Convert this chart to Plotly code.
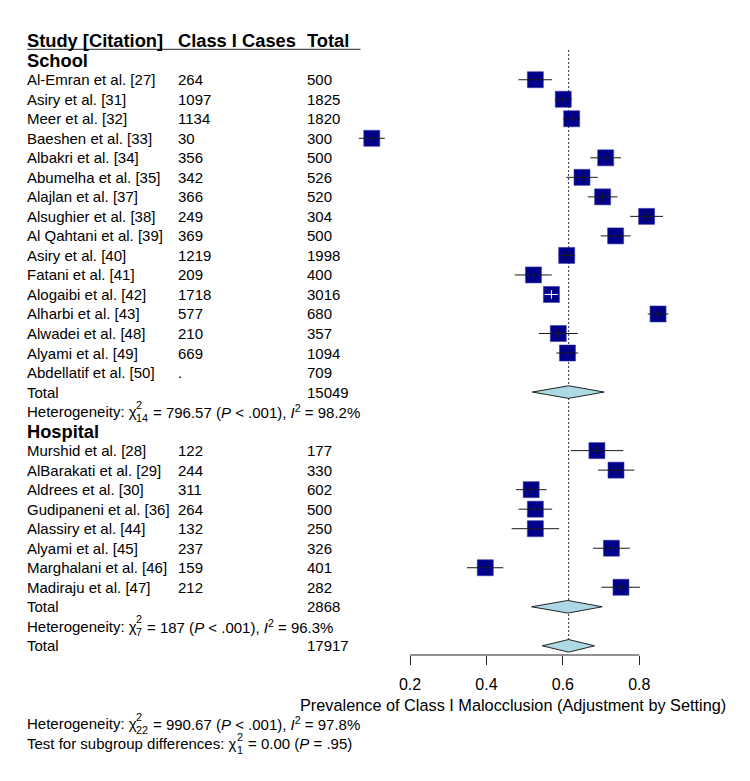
import plotly.graph_objects as go

# ---------------- data ----------------
school_studies = ["Al-Emran et al. [27]", "Asiry et al. [31]", "Meer et al. [32]", "Baeshen et al. [33]",
                  "Albakri et al. [34]", "Abumelha et al. [35]", "Alajlan et al. [37]", "Alsughier et al. [38]",
                  "Al Qahtani et al. [39]", "Asiry et al. [40]", "Fatani et al. [41]", "Alogaibi et al. [42]",
                  "Alharbi et al. [43]", "Alwadei et al. [48]", "Alyami et al. [49]", "Abdellatif et al. [50]"]
school_cases = ["264", "1097", "1134", "30", "356", "342", "366", "249", "369", "1219", "209", "1718",
                "577", "210", "669", "."]
school_totals = ["500", "1825", "1820", "300", "500", "526", "520", "304", "500", "1998", "400", "3016",
                 "680", "357", "1094", "709"]
school_est = [0.528, 0.601, 0.623, 0.100, 0.712, 0.650, 0.704, 0.819, 0.738, 0.610, 0.523, 0.570,
              0.849, 0.588, 0.612, None]
school_lo = [0.484, 0.579, 0.601, 0.066, 0.672, 0.609, 0.665, 0.776, 0.699, 0.589, 0.474, 0.552,
             0.822, 0.537, 0.583, None]
school_hi = [0.572, 0.624, 0.645, 0.134, 0.752, 0.691, 0.743, 0.862, 0.777, 0.632, 0.571, 0.587,
             0.876, 0.639, 0.640, None]

hospital_studies = ["Murshid et al. [28]", "AlBarakati et al. [29]", "Aldrees et al. [30]",
                    "Gudipaneni et al. [36]", "Alassiry et al. [44]", "Alyami et al. [45]",
                    "Marghalani et al. [46]", "Madiraju et al. [47]"]
hospital_cases = ["122", "244", "311", "264", "132", "237", "159", "212"]
hospital_totals = ["177", "330", "602", "500", "250", "326", "401", "282"]
hospital_est = [0.689, 0.739, 0.517, 0.528, 0.528, 0.727, 0.397, 0.752]
hospital_lo = [0.621, 0.692, 0.477, 0.484, 0.466, 0.679, 0.349, 0.701]
hospital_hi = [0.758, 0.787, 0.557, 0.572, 0.590, 0.775, 0.444, 0.802]

school_pooled = (0.615, 0.520, 0.708)
hospital_pooled = (0.613, 0.518, 0.703)
overall_pooled = (0.615, 0.546, 0.683)
school_total_n = "15049"
hospital_total_n = "2868"
overall_total_n = "17917"
ref_line = 0.615

tick_vals = [0.2, 0.4, 0.6, 0.8]
tick_labels = ["0.2", "0.4", "0.6", "0.8"]

# ---------------- layout constants ----------------
W, H = 750, 781
X0 = 333.56        # pixel of value 0
SCALE = 382.2      # pixels per unit
ROW0 = 40.7        # pixel of row 0
ROWH = 19.52       # pixels per row
FONT = "Liberation Sans, Arial, sans-serif"
SQ_COLOR = "#00008B"
DIA_COLOR = "#ADD8E6"


def xv(px):
    return (px - X0) / SCALE


def rv(py):
    return (py - ROW0) / ROWH


# Arial / Liberation Sans advance widths (per 1000 em)
AW = {' ': 278, '(': 333, ')': 333, '%': 889, ',': 278, '-': 333, '.': 278, ':': 278, '<': 584, '=': 584,
      'χ': 525, 'H': 722, 'T': 611, 'P': 667, 'I': 278}
for c in '0123456789':
    AW[c] = 556
AW.update({'a': 556, 'b': 556, 'c': 500, 'd': 556, 'e': 556, 'f': 278, 'g': 556, 'h': 556, 'i': 222,
           'j': 222, 'k': 500, 'l': 222, 'm': 833, 'n': 556, 'o': 556, 'p': 556, 'q': 556, 'r': 333,
           's': 500, 't': 278, 'u': 556, 'v': 500, 'w': 722, 'x': 500, 'y': 500, 'z': 500})


def tw(s, fs):
    return sum(AW.get(c, 556) for c in s) * fs / 1000.0


fig = go.Figure()
annotations = []


def ann(px, row, text, size=15, bold=False, xanchor="left", yshift=0):
    if bold:
        text = "<b>" + text + "</b>"
    annotations.append(dict(x=xv(px), y=row, xref="x", yref="y", text=text, showarrow=False,
                            xanchor=xanchor, yanchor="middle", yshift=yshift,
                            borderpad=0, borderwidth=0,
                            font=dict(family=FONT, size=size, color="black")))


def chi_line(px, row, prefix, sup, sub, rest, fs=15.0):
    ann(px, row, prefix, size=fs)
    xs = px + tw(prefix, fs) - 1.0
    sfs = fs * 0.72
    ann(xs, row, sup, size=sfs, yshift=7)
    ann(xs, row, sub, size=sfs, yshift=-6)
    wsub = max(tw(sup, sfs), tw(sub, sfs))
    ann(xs + wsub + 1.0 + tw(' ', fs), row, rest, size=fs)


COL_LABEL, COL_CASES, COL_TOTAL = 27, 178, 306.5

# header
ann(COL_LABEL, 0, "Study [Citation]", size=18.3, bold=True)
ann(COL_CASES, 0, "Class I Cases", size=18.3, bold=True)
ann(COL_TOTAL, 0, "Total", size=18.3, bold=True)

rows_est, rows_lo, rows_hi, rows_y = [], [], [], []

row = 1
ann(COL_LABEL, row, "School", size=18.3, bold=True)
row += 1
for name, c, n, e, lo, hi in zip(school_studies, school_cases, school_totals, school_est, school_lo, school_hi):
    ann(COL_LABEL, row, name)
    ann(COL_CASES, row, c)
    ann(COL_TOTAL, row, n)
    if e is not None:
        rows_est.append(e); rows_lo.append(lo); rows_hi.append(hi); rows_y.append(row)
    row += 1
school_sum_row = row
ann(COL_LABEL, row, "Total")
ann(COL_TOTAL, row, school_total_n)
row += 1
chi_line(COL_LABEL, row, "Heterogeneity: χ", "2", "14", "= 796.57 (<i>P</i> &lt; .001), <i>I</i><sup>2</sup> = 98.2%")
row += 1
ann(COL_LABEL, row, "Hospital", size=18.3, bold=True)
row += 1
for name, c, n, e, lo, hi in zip(hospital_studies, hospital_cases, hospital_totals, hospital_est, hospital_lo, hospital_hi):
    ann(COL_LABEL, row, name)
    ann(COL_CASES, row, c)
    ann(COL_TOTAL, row, n)
    rows_est.append(e); rows_lo.append(lo); rows_hi.append(hi); rows_y.append(row)
    row += 1
hospital_sum_row = row
ann(COL_LABEL, row, "Total")
ann(COL_TOTAL, row, hospital_total_n)
row += 1
chi_line(COL_LABEL, row, "Heterogeneity: χ", "2", "7", "= 187 (<i>P</i> &lt; .001), <i>I</i><sup>2</sup> = 96.3%")
row += 1
overall_row = row
ann(COL_LABEL, row, "Total")
ann(COL_TOTAL, row, overall_total_n)

axis_row = rv(655)
ann(513, rv(705), "Prevalence of Class I Malocclusion (Adjustment by Setting)", size=16.3, xanchor="center")
chi_line(COL_LABEL, rv(723.5), "Heterogeneity: χ", "2", "22", "= 990.67 (<i>P</i> &lt; .001), <i>I</i><sup>2</sup> = 97.8%")
chi_line(COL_LABEL, rv(743.5), "Test for subgroup differences: χ", "2", "1", "= 0.00 (<i>P</i> = .95)")

# reference dotted line
fig.add_trace(go.Scatter(x=[ref_line, ref_line], y=[rv(50), rv(651)], mode="lines",
                         line=dict(color="#333333", width=1, dash="2px,2px"), hoverinfo="skip"))

# squares
fig.add_trace(go.Scatter(x=rows_est, y=rows_y, mode="markers",
                         marker=dict(symbol="square", size=16, color=SQ_COLOR,
                                     line=dict(width=0.6, color="#3a3aa8")), hoverinfo="skip"))

# whiskers (white when CI fits inside the square)
for inside in (False, True):
    xs, ys, cx, cy = [], [], [], []
    for e, lo, hi, y in zip(rows_est, rows_lo, rows_hi, rows_y):
        fits = (hi - lo) * SCALE < 16
        if fits != inside:
            continue
        xs += [lo, hi, None]
        ys += [y, y, None]
        cx.append(e); cy.append(y)
    col = "white" if inside else "#1a1a1a"
    if xs:
        fig.add_trace(go.Scatter(x=xs, y=ys, mode="lines", line=dict(color=col, width=1), hoverinfo="skip"))
        fig.add_trace(go.Scatter(x=cx, y=cy, mode="markers",
                                 marker=dict(symbol="line-ns", size=6, line=dict(color=col, width=1)),
                                 hoverinfo="skip"))

# diamonds
DH = 6.3 / ROWH
for (e, lo, hi), r in ((school_pooled, school_sum_row), (hospital_pooled, hospital_sum_row),
                       (overall_pooled, overall_row)):
    fig.add_trace(go.Scatter(x=[lo, e, hi, e, lo], y=[r, r - DH, r, r + DH, r], mode="lines",
                             fill="toself", fillcolor=DIA_COLOR, line=dict(color="#222222", width=1),
                             hoverinfo="skip"))

shapes = [
    # header underline
    dict(type="line", xref="x", yref="y", x0=xv(27), x1=xv(360.5), y0=rv(49.3), y1=rv(49.3),
         line=dict(color="#222222", width=1)),
    # axis line
    dict(type="line", xref="x", yref="y", x0=tick_vals[0], x1=tick_vals[-1], y0=axis_row, y1=axis_row,
         line=dict(color="#222222", width=1)),
]

fig.update_layout(
    width=W, height=H, margin=dict(l=0, r=0, t=0, b=0),
    paper_bgcolor="white", plot_bgcolor="white", showlegend=False,
    annotations=annotations, shapes=shapes,
    xaxis=dict(range=[xv(0), xv(W)], domain=[0, 1], anchor="free", position=(H - 655) / H,
               tickvals=tick_vals, ticktext=tick_labels, ticks="outside", ticklen=9, tickwidth=1,
               tickcolor="#222222", showline=False, showgrid=False, zeroline=False,
               ticklabelstandoff=6,
               tickfont=dict(family=FONT, size=16, color="black"), fixedrange=True),
    yaxis=dict(range=[rv(H), rv(0)], visible=False, fixedrange=True),
)

fig.write_html("out.html")
